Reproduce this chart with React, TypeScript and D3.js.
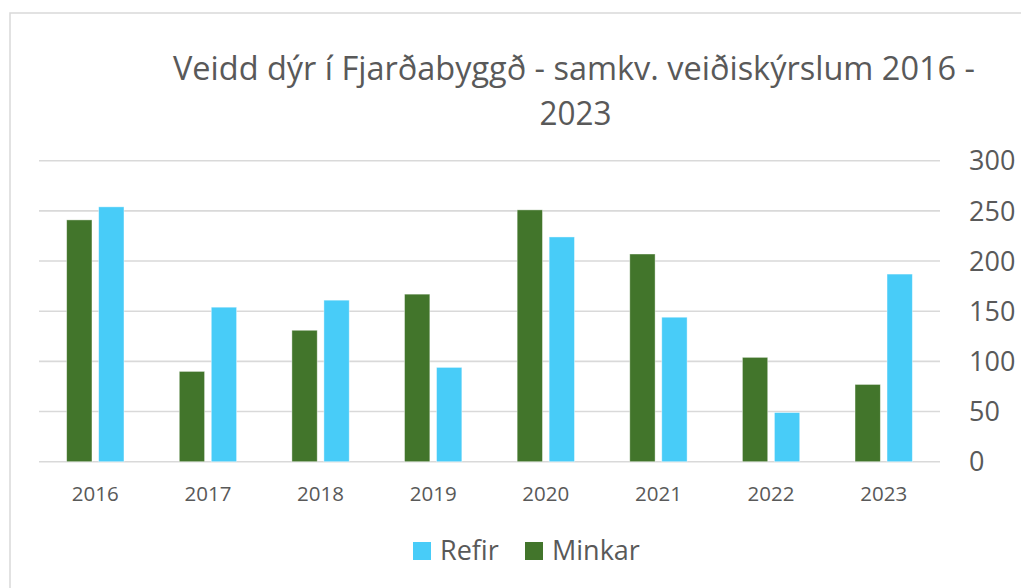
import React, { useEffect } from "react";
import * as d3 from "d3";

const years = ["2016", "2017", "2018", "2019", "2020", "2021", "2022", "2023"];
const minkar = [241, 90, 131, 167, 251, 207, 104, 77];
const refir = [254, 154, 161, 94, 224, 144, 49, 187];
const yTicks = [0, 50, 100, 150, 200, 250, 300];
const seriesNames = ["Minkar", "Refir"];
const legendOrder = ["Refir", "Minkar"];
const titleLine1 = "Veidd dýr í Fjarðabyggð - samkv. veiðiskýrslum 2016 -";
const titleLine2 = "2023";

const W = 1021;
const H = 588;
const colors: Record<string, string> = { Minkar: "#42752B", Refir: "#48CCF8" };
const textColor = "#595959";
const font = "'Open Sans', 'Noto Sans', sans-serif";

export default function App() {
  useEffect(() => {
    document.body.style.margin = "0";
  }, []);

  const x0 = d3.scaleBand<string>().domain(years).range([39, 940]).padding(0);
  const x1 = d3
    .scaleBand<string>()
    .domain(seriesNames)
    .range([0, x0.bandwidth()])
    .paddingInner(0.209)
    .paddingOuter(0.864);
  const y = d3.scaleLinear().domain([0, 300]).range([461.7, 160.7]);

  const data: Record<string, number[]> = { Minkar: minkar, Refir: refir };

  return (
    <svg width={W} height={H} style={{ display: "block" }} fontFamily={font}>
      <rect x={0} y={0} width={W} height={H} fill="#fff" />
      <rect x={10} y={13} width={W + 20} height={H + 20} fill="#fff" stroke="#d9d9d9" strokeWidth={1.5} />

      <text x={574} y={79.5} textAnchor="middle" fontSize={33} fill={textColor} textLength={802} lengthAdjust="spacingAndGlyphs">
        {titleLine1}
      </text>
      <text x={575.5} y={124.5} textAnchor="middle" fontSize={33} fill={textColor} textLength={72} lengthAdjust="spacingAndGlyphs">
        {titleLine2}
      </text>

      {yTicks.map((t) => (
        <g key={t}>
          <line x1={39} x2={940} y1={y(t)} y2={y(t)} stroke="#d9d9d9" strokeWidth={1.6} />
          <text x={969} y={y(t)} dy="0.36em" fontSize={27} fill={textColor}>
            {t}
          </text>
        </g>
      ))}

      {years.map((yr, i) => (
        <g key={yr}>
          {seriesNames.map((s) => (
            <rect
              key={s}
              x={(x0(yr) as number) + (x1(s) as number)}
              y={y(data[s][i])}
              width={x1.bandwidth()}
              height={y(0) - y(data[s][i])}
              fill={colors[s]}
              stroke="#ffffff"
              strokeOpacity={0.5}
              strokeWidth={0.8}
            />
          ))}
          <text
            x={(x0(yr) as number) + x0.bandwidth() / 2}
            y={500.5}
            textAnchor="middle"
            fontSize={20.5}
            fill={textColor}
          >
            {yr}
          </text>
        </g>
      ))}

      {legendOrder.map((s, i) => {
        const lx = i === 0 ? 413 : 525;
        return (
          <g key={s}>
            <rect x={lx} y={542} width={18} height={18} fill={colors[s]} />
            <text x={lx + 27} y={560} fontSize={27} fill={textColor}>
              {s}
            </text>
          </g>
        );
      })}
    </svg>
  );
}
